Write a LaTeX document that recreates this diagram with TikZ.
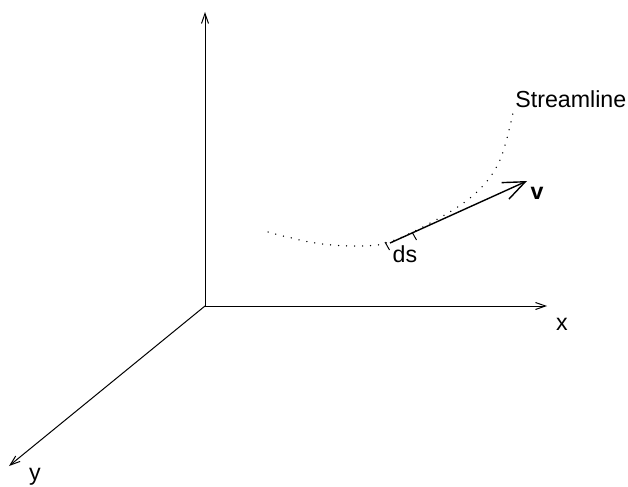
\documentclass[tikz,border=0pt]{standalone}
\usepackage{fontspec}
\setmainfont{Liberation Sans}
\usetikzlibrary{arrows.meta}
\begin{document}
\begin{tikzpicture}[x=0.5pt,y=-0.5pt,
  axis/.style={line width=0.5pt,-{Straight Barb[length=5pt,width=3.5pt]}},
  vec/.style={line width=0.7pt,-{Straight Barb[length=11pt,width=9pt]}},
  lbl/.style={inner sep=0pt,font=\fontsize{11.6}{14}\selectfont},
  stream/.style={line width=0.75pt,line cap=round,dash pattern=on 0pt off 4pt}]
\useasboundingbox (0,0) rectangle (628,487);
\coordinate (O) at (205,306);
\coordinate (Z) at (205,12);
\coordinate (X) at (547,306);
\coordinate (Y) at (9,466);
\draw[axis] (O) -- (Z);
\draw[axis] (O) -- (X);
\draw[axis] (O) -- (Y);
\node[lbl] (xl) at (562,324) {x};
\node[lbl] (yl) at (35,477) {y};
% streamline
\draw[stream] plot[smooth,tension=0.6] coordinates {(268,232) (315,243) (360,246) (392,241) (443,216) (478,191) (500,160) (513,113)};
\node[lbl,anchor=west] (sl) at (515,99) {Streamline};
% velocity vector
\coordinate (A) at (390,243);
\coordinate (B) at (527,181);
\draw[vec] (A) -- (B);
\node[lbl] (v) at (537,193) {\bfseries v};
% ds ticks
\coordinate (T1) at (385,242);
\coordinate (T2) at (412,232);
\draw[line width=0.5pt] (T1) -- ++(4.5,8);
\draw[line width=0.5pt] (T2) -- ++(4.5,8);
\node[lbl] (ds) at (405,254) {ds};
\end{tikzpicture}
\end{document}
